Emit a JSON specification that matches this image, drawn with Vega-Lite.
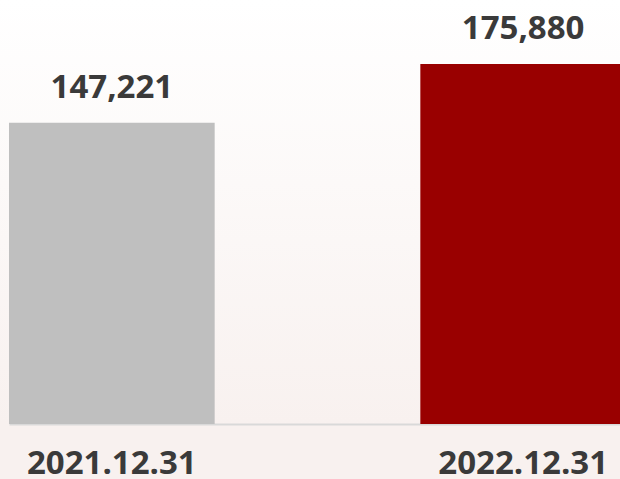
{
  "$schema": "https://vega.github.io/schema/vega-lite/v6.json",
  "width": 620,
  "height": 424,
  "autosize": "none",
  "padding": {"left": 0, "top": 0, "right": 0, "bottom": 55},
  "background": "#f8f1ef",
  "config": {
    "view": {
      "stroke": null,
      "fill": {
        "gradient": "linear",
        "x1": 0, "y1": 0, "x2": 0, "y2": 1,
        "stops": [
          {"offset": 0, "color": "#ffffff"},
          {"offset": 1, "color": "#f8f1ef"}
        ]
      }
    },
    "font": "Open Sans"
  },
  "data": {
    "values": [
      {"date": "2021.12.31", "value": 147221, "color": "#bfbfbf"},
      {"date": "2022.12.31", "value": 175880, "color": "#990000"}
    ]
  },
  "encoding": {
    "x": {
      "field": "date",
      "type": "nominal",
      "sort": null,
      "scale": {"range": [9, 626], "paddingInner": 0.5, "paddingOuter": 0},
      "axis": {
        "title": null,
        "labelAngle": 0,
        "labelFont": "Open Sans",
        "labelFontSize": 33,
        "labelFontWeight": "bold",
        "labelColor": "#3a3a3a",
        "labelPadding": 23,
        "ticks": false,
        "domainColor": "#d9d9d9",
        "domainWidth": 2,
        "grid": false
      }
    },
    "y": {
      "field": "value",
      "type": "quantitative",
      "scale": {"domain": [0, 207150], "nice": false},
      "axis": null
    }
  },
  "layer": [
    {
      "mark": {"type": "bar"},
      "encoding": {
        "color": {"field": "color", "type": "nominal", "scale": null}
      }
    },
    {
      "mark": {
        "type": "text",
        "baseline": "alphabetic",
        "dy": -25,
        "font": "Open Sans",
        "fontSize": 33,
        "fontWeight": "bold",
        "color": "#3a3a3a"
      },
      "encoding": {
        "text": {"field": "value", "type": "quantitative", "format": ","}
      }
    }
  ]
}
